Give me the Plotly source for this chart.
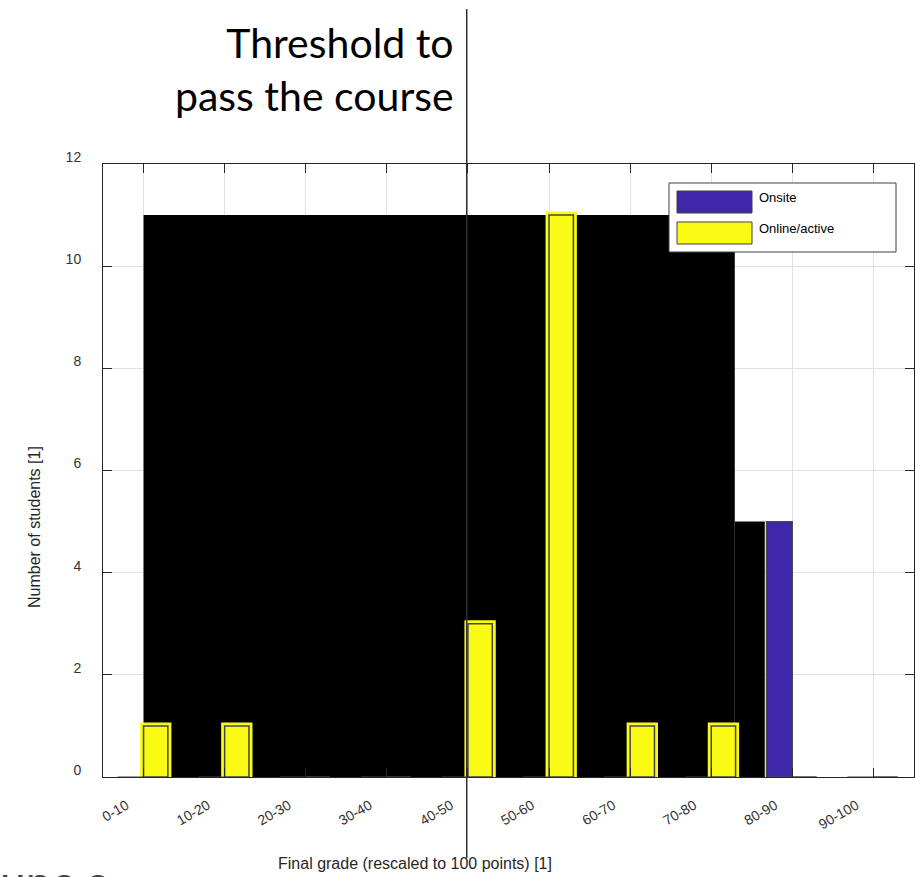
import plotly.graph_objects as go

# ---------------- data ----------------
categories = ["0-10", "10-20", "20-30", "30-40", "40-50",
              "50-60", "60-70", "70-80", "80-90", "90-100"]
onsite = [0, 0, 0, 0, 0, 0, 0, 0, 5, 0]
online_active = [1, 1, 0, 0, 3, 11, 1, 1, 0, 0]
y_tick_values = [0, 2, 4, 6, 8, 10, 12]
shade_levels = [11, 5]          # heights of the black filled block
threshold_position = 4.985      # in category-index units (grade 50)

# ---------------- style ----------------
PURPLE = "rgb(62,38,168)"
YELLOW = "rgb(249,251,21)"
EDGE = "rgb(70,70,70)"
AXIS = "#262626"
GRID = "#e2e2e2"
W, H = 915, 877
ML, MR, MT, MB = 103, 1, 164, 100
PW, PH = W - ML - MR, H - MT - MB


def px_x(p):
    return (p - ML) / PW


def px_y(p):
    return (H - MB - p) / PH


idx = list(range(1, len(categories) + 1))

fig = go.Figure()

# black block (drawn from the shade levels)
shade_edges = [1.0, 8.29, 8.66]
fig.add_trace(go.Bar(
    x=[(a + b) / 2 for a, b in zip(shade_edges[:-1], shade_edges[1:])],
    y=shade_levels,
    width=[b - a for a, b in zip(shade_edges[:-1], shade_edges[1:])],
    marker=dict(color="black", line=dict(width=0)),
    showlegend=False, hoverinfo="skip"))

# online/active: yellow outer rim
fig.add_trace(go.Bar(
    x=idx, y=online_active, width=0.3, offset=0.0,
    marker=dict(color=YELLOW,
                line=dict(color=YELLOW, width=[7 if v else 0 for v in online_active])),
    showlegend=False, hoverinfo="skip"))
# online/active: main bar with dark edge
fig.add_trace(go.Bar(
    x=idx, y=online_active, width=0.3, offset=0.0, name="Online/active",
    marker=dict(color=YELLOW, line=dict(color=EDGE, width=1.5)),
    showlegend=False))
# onsite
fig.add_trace(go.Bar(
    x=idx, y=onsite, width=0.32, offset=-0.32, name="Onsite",
    marker=dict(color=PURPLE, line=dict(color=EDGE, width=1.2)),
    showlegend=False))

axis_common = dict(
    showline=True, linecolor=AXIS, linewidth=1, mirror="ticks",
    ticks="inside", ticklen=9, tickwidth=1, tickcolor=AXIS,
    showgrid=True, gridcolor=GRID, gridwidth=1, zeroline=False,
    tickfont=dict(family="Liberation Sans, Arial", size=14, color="#333333"),
)

fig.update_layout(
    width=W, height=H,
    margin=dict(l=ML, r=MR, t=MT, b=MB, pad=0),
    paper_bgcolor="white", plot_bgcolor="white",
    barmode="overlay", showlegend=False,
    xaxis=dict(range=[0.5, 10.5], tickmode="array", tickvals=idx,
               ticktext=categories, tickangle=-30,
               ticklabelshift=-17, ticklabelstandoff=14, **axis_common),
    yaxis=dict(range=[0, 12], tickmode="array", tickvals=y_tick_values,
               ticklabelshift=-7, ticklabelstandoff=18, **axis_common),
)

# threshold line
fig.add_shape(type="line", xref="x", yref="paper",
              x0=threshold_position, x1=threshold_position,
              y0=px_y(9), y1=px_y(858),
              line=dict(color="#303030", width=1.5), layer="above")

annotations = [
    dict(text="Threshold to<br>pass the course", xref="paper", yref="paper",
         x=px_x(456), y=px_y(16), xanchor="right", yanchor="top", align="right",
         showarrow=False, font=dict(family="Lato", size=41, color="black")),
    dict(text="Final grade (rescaled to 100 points) [1]", xref="paper", yref="paper",
         x=px_x(415), y=px_y(863), xanchor="center", yanchor="middle",
         showarrow=False, font=dict(family="Liberation Sans, Arial", size=16, color=AXIS)),
    dict(text="Number of students [1]", xref="paper", yref="paper",
         x=px_x(34), y=px_y(527), xanchor="center", yanchor="middle", textangle=-90,
         showarrow=False, font=dict(family="Liberation Sans, Arial", size=16, color=AXIS)),
    dict(text="Onsite", xref="paper", yref="paper",
         x=px_x(757), y=px_y(197), xanchor="left", yanchor="middle",
         showarrow=False, font=dict(family="Liberation Sans, Arial", size=13, color="black")),
    dict(text="Online/active", xref="paper", yref="paper",
         x=px_x(757), y=px_y(228), xanchor="left", yanchor="middle",
         showarrow=False, font=dict(family="Liberation Sans, Arial", size=13, color="black")),
    dict(text="unc c", xref="paper", yref="paper",
         x=px_x(-2), y=px_y(852), xanchor="left", yanchor="top",
         showarrow=False, font=dict(family="Lato", size=46, color="#444444")),
]
fig.update_layout(annotations=annotations)

# legend box (manual, wide swatches)
fig.add_shape(type="rect", xref="paper", yref="paper",
              x0=px_x(669), x1=px_x(896), y0=px_y(183), y1=px_y(252),
              line=dict(color="#404040", width=1), fillcolor="white", layer="above")
fig.add_shape(type="rect", xref="paper", yref="paper",
              x0=px_x(677), x1=px_x(752), y0=px_y(191), y1=px_y(213),
              line=dict(color="#404040", width=1), fillcolor=PURPLE, layer="above")
fig.add_shape(type="rect", xref="paper", yref="paper",
              x0=px_x(677), x1=px_x(752), y0=px_y(222), y1=px_y(244),
              line=dict(color="#404040", width=1), fillcolor=YELLOW, layer="above")

fig.write_html("out.html", config={"displayModeBar": False},
               post_script="document.body.style.margin='0';document.body.style.overflow='hidden';")
